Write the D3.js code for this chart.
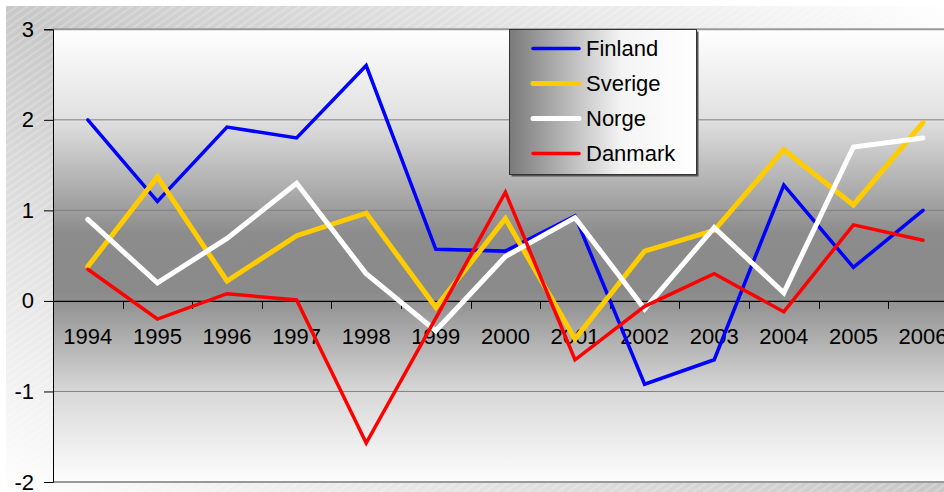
<!DOCTYPE html>
<html>
<head>
<meta charset="utf-8">
<script src="https://cdn.jsdelivr.net/npm/d3@7"></script>
<style>
  html, body { margin: 0; padding: 0; background: #fff; }
  svg { display: block; }
</style>
</head>
<body>
<div id="playground"></div>
<script>
// Data
var years = ['1994','1995','1996','1997','1998','1999','2000','2001','2002','2003','2004','2005','2006']
var finland = [2.0, 1.1, 1.92, 1.8, 2.6, 0.57, 0.55, 0.94, -0.92, -0.65, 1.28, 0.37, 1.0]
var sverige = [0.38, 1.37, 0.22, 0.72, 0.97, -0.07, 0.91, -0.42, 0.55, 0.78, 1.67, 1.06, 1.97]
var norge = [0.9, 0.2, 0.69, 1.3, 0.3, -0.33, 0.49, 0.92, -0.09, 0.81, 0.09, 1.7, 1.8]
var danmark = [0.35, -0.2, 0.08, 0.01, -1.57, -0.19, 1.2, -0.65, -0.06, 0.3, -0.12, 0.84, 0.67]
var seriesNames = ['Finland', 'Sverige', 'Norge', 'Danmark']
var yTicks = [-2, -1, 0, 1, 2, 3]

var settings = {}
settings.width = 944
settings.height = 492
settings.plot_left = 53
settings.plot_top = 29.3
settings.plot_bottom = 482
settings.band = 69.6
settings.font = '"Liberation Sans", Arial, sans-serif'
settings.font_size = 22

var seriesData = [finland, sverige, norge, danmark]
var seriesColor = ['#0000ff', '#ffcc00', '#ffffff', '#ff0000']
var seriesWidth = [3.5, 5, 5, 3.5]

var svg = d3.select('#playground').append('svg')
  .attr('width', settings.width)
  .attr('height', settings.height)

var defs = svg.append('defs')

// Outer background: diagonal gradient + faint hatching
var outerGrad = defs.append('linearGradient')
  .attr('id', 'outerGrad')
  .attr('x1', 1).attr('y1', 0).attr('x2', 0).attr('y2', 1)
outerGrad.append('stop').attr('offset', 0).attr('stop-color', '#ffffff')
outerGrad.append('stop').attr('offset', 0.5).attr('stop-color', '#c8c8c8')
outerGrad.append('stop').attr('offset', 1).attr('stop-color', '#ffffff')

var hatch = defs.append('pattern')
  .attr('id', 'hatch')
  .attr('patternUnits', 'userSpaceOnUse')
  .attr('width', 6).attr('height', 6)
  .attr('patternTransform', 'rotate(-35)')
hatch.append('line')
  .attr('x1', 0).attr('y1', 3).attr('x2', 6).attr('y2', 3)
  .attr('stroke', '#ffffff').attr('stroke-width', 0.8).attr('stroke-opacity', 0.5)

svg.append('rect')
  .attr('x', 6).attr('y', 6)
  .attr('width', settings.width).attr('height', settings.height)
  .attr('fill', 'url(#outerGrad)')
svg.append('rect')
  .attr('x', 6).attr('y', 6)
  .attr('width', settings.width).attr('height', settings.height)
  .attr('fill', 'url(#hatch)')

// Scales
var x = d3.scaleBand()
  .domain(years)
  .range([settings.plot_left, settings.plot_left + years.length * settings.band])

var y = d3.scaleLinear()
  .domain([-2, 3])
  .range([settings.plot_bottom, settings.plot_top])

var plotRight = settings.plot_left + years.length * settings.band

// Plot area: vertical gradient white -> gray -> white
var plotGrad = defs.append('linearGradient')
  .attr('id', 'plotGrad')
  .attr('x1', 0).attr('y1', 0).attr('x2', 0).attr('y2', 1)
plotGrad.append('stop').attr('offset', 0).attr('stop-color', '#ffffff')
plotGrad.append('stop').attr('offset', 0.2).attr('stop-color', '#e0e0e0')
plotGrad.append('stop').attr('offset', 0.45).attr('stop-color', '#8c8c8c')
plotGrad.append('stop').attr('offset', 0.58).attr('stop-color', '#8a8a8a')
plotGrad.append('stop').attr('offset', 0.8).attr('stop-color', '#d8d8d8')
plotGrad.append('stop').attr('offset', 1).attr('stop-color', '#fdfdfd')

svg.append('rect')
  .attr('x', settings.plot_left)
  .attr('y', y(3))
  .attr('width', plotRight - settings.plot_left)
  .attr('height', y(-2) - y(3))
  .attr('fill', 'url(#plotGrad)')

// Gridlines
yTicks.forEach(function(v){
  if (v === 0) return
  var edge = (v === 3 || v === -2)
  svg.append('line')
    .attr('x1', settings.plot_left).attr('x2', plotRight)
    .attr('y1', y(v)).attr('y2', y(v))
    .attr('stroke', edge ? '#999999' : '#808080')
    .attr('stroke-width', edge ? 2 : 1)
})

// Y axis
var yAxis = svg.append('g')
  .attr('transform', 'translate(' + settings.plot_left + ',0)')
  .call(d3.axisLeft(y).tickValues(yTicks).tickSize(9).tickPadding(10).tickFormat(d3.format('d')))
yAxis.select('.domain').attr('stroke', '#000')
yAxis.selectAll('.tick line').attr('stroke', '#000')
yAxis.selectAll('text')
  .attr('font-family', settings.font)
  .attr('font-size', settings.font_size)
  .attr('fill', '#000')
  .text(function(d){ return d < 0 ? '-' + Math.abs(d) : d })

// X axis at zero: labels, then boundary ticks
var xAxis = svg.append('g')
  .attr('transform', 'translate(0,' + y(0) + ')')
  .call(d3.axisBottom(x).tickSize(0).tickPadding(27))
xAxis.select('.domain').attr('stroke', '#000').attr('stroke-width', 1.2)
xAxis.selectAll('text')
  .attr('font-family', settings.font)
  .attr('font-size', settings.font_size)
  .attr('fill', '#000')

years.slice(0, -1).forEach(function(yr){
  var tx = Math.round(x(yr) + x.bandwidth()) + 0.5
  svg.append('line')
    .attr('x1', tx).attr('x2', tx)
    .attr('y1', y(0)).attr('y2', y(0) + 8)
    .attr('stroke', '#000')
})

// Lines
var line = d3.line()
  .x(function(d, i){ return x(years[i]) + x.bandwidth() / 2 })
  .y(function(d){ return y(d) })

seriesData.forEach(function(values, k){
  svg.append('path')
    .attr('d', line(values))
    .attr('fill', 'none')
    .attr('stroke', seriesColor[k])
    .attr('stroke-width', seriesWidth[k])
    .attr('stroke-linejoin', 'miter')
    .attr('stroke-linecap', 'round')
})

// Legend
var lg = {x: 509.5, y: 29.5, w: 187, h: 145}
var legGrad = defs.append('linearGradient')
  .attr('id', 'legGrad')
  .attr('x1', 0).attr('y1', 0).attr('x2', 1).attr('y2', 0)
legGrad.append('stop').attr('offset', 0).attr('stop-color', '#7a7a7a')
legGrad.append('stop').attr('offset', 0.6).attr('stop-color', '#f4f4f4')
legGrad.append('stop').attr('offset', 1).attr('stop-color', '#ffffff')

svg.append('rect')
  .attr('x', lg.x + 2).attr('y', lg.y + 2)
  .attr('width', lg.w).attr('height', lg.h)
  .attr('fill', '#555')
svg.append('rect')
  .attr('x', lg.x).attr('y', lg.y)
  .attr('width', lg.w).attr('height', lg.h)
  .attr('fill', 'url(#legGrad)')
  .attr('stroke', '#333')
  .attr('stroke-width', 1)

seriesNames.forEach(function(name, k){
  var cy = lg.y + 19 + k * 35
  svg.append('line')
    .attr('x1', 533).attr('x2', 579)
    .attr('y1', cy).attr('y2', cy)
    .attr('stroke', seriesColor[k])
    .attr('stroke-width', seriesWidth[k])
    .attr('stroke-linecap', 'round')
  svg.append('text')
    .attr('x', 586)
    .attr('y', cy)
    .attr('dy', '0.36em')
    .attr('font-family', settings.font)
    .attr('font-size', settings.font_size)
    .attr('fill', '#000')
    .text(name)
})
</script>
</body>
</html>
